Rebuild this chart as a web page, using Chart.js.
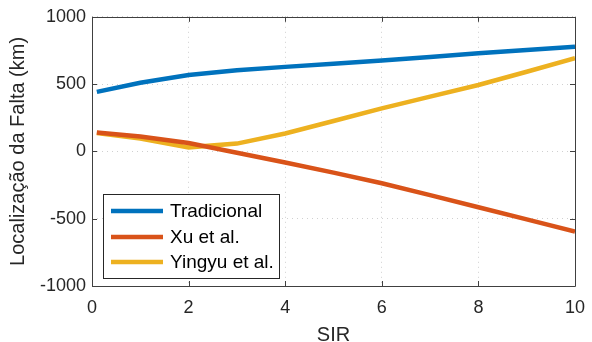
<!DOCTYPE html>
<html>
<head>
<meta charset="utf-8">
<script src="https://cdn.jsdelivr.net/npm/chart.js@4/dist/chart.umd.min.js"></script>
<style>
  html, body { margin: 0; padding: 0; background: #fff; }
  #wrap { width: 592px; height: 342px; }
</style>
</head>
<body>
<div id="wrap"><canvas id="fault-chart"></canvas></div>
<script>
// dados
const sir = [0.1, 1, 2, 3, 4, 5, 6, 7, 8, 9, 10];
const tradicional = [442, 510, 568, 603, 628, 652, 675, 702, 730, 754, 777];
const xuEtAl = [140, 110, 62, -10, -82, -158, -237, -325, -415, -505, -595];
const yingyuEtAl = [137, 95, 30, 58, 133, 226, 320, 407, 493, 592, 692];
const xTicks = [0, 2, 4, 6, 8, 10];
const yTicks = [-1000, -500, 0, 500, 1000];

const FONT = "'Liberation Sans', Arial, Helvetica, sans-serif";
const INK = "#262626";

function pts(ys) {
  return sir.map((x, i) => ({ x: x, y: ys[i] }));
}

// caixa, ticks para dentro e legenda (estilo MATLAB)
const matlabBox = {
  id: "matlabBox",
  afterDraw(chart) {
    const ctx = chart.ctx;
    const a = chart.chartArea;
    const sx = chart.scales.x;
    const sy = chart.scales.y;
    ctx.save();
    ctx.strokeStyle = "#404040";
    ctx.lineWidth = 1;
    ctx.beginPath();
    ctx.rect(Math.round(a.left) + 0.5, Math.round(a.top) + 0.5,
      Math.round(a.right - a.left), Math.round(a.bottom - a.top));
    xTicks.forEach((t) => {
      const px = Math.round(sx.getPixelForValue(t)) + 0.5;
      ctx.moveTo(px, a.bottom); ctx.lineTo(px, a.bottom - 5);
      ctx.moveTo(px, a.top); ctx.lineTo(px, a.top + 5);
    });
    yTicks.forEach((t) => {
      const py = Math.round(sy.getPixelForValue(t)) + 0.5;
      ctx.moveTo(a.left, py); ctx.lineTo(a.left + 5, py);
      ctx.moveTo(a.right, py); ctx.lineTo(a.right - 5, py);
    });
    ctx.stroke();

    // legenda
    const lx = 103, ly = 194, lw = 176, lh = 84;
    ctx.fillStyle = "#fff";
    ctx.fillRect(lx, ly, lw, lh);
    ctx.strokeStyle = INK;
    ctx.strokeRect(lx + 0.5, ly + 0.5, lw, lh);
    ctx.font = "19px " + FONT;
    ctx.textBaseline = "middle";
    const rows = [211, 237, 262];
    chart.data.datasets.forEach((ds, i) => {
      ctx.strokeStyle = ds.borderColor;
      ctx.lineWidth = 4.5;
      ctx.beginPath();
      ctx.moveTo(111, rows[i]);
      ctx.lineTo(163, rows[i]);
      ctx.stroke();
      ctx.fillStyle = "#000";
      ctx.fillText(ds.label, 170, rows[i] + 1);
    });
    ctx.restore();
  },
};

new Chart(document.getElementById("fault-chart"), {
  type: "line",
  data: {
    datasets: [
      { label: "Tradicional", data: pts(tradicional), borderColor: "#0072BD" },
      { label: "Xu et al.", data: pts(xuEtAl), borderColor: "#D95319" },
      { label: "Yingyu et al.", data: pts(yingyuEtAl), borderColor: "#EDB120" },
    ],
  },
  options: {
    responsive: true,
    maintainAspectRatio: false,
    animation: false,
    elements: {
      point: { radius: 0 },
      line: { borderWidth: 4.5, tension: 0, fill: false },
    },
    layout: { padding: { top: 16, right: 17, left: 0, bottom: 0 } },
    plugins: {
      legend: { display: false },
      tooltip: { enabled: false },
    },
    scales: {
      x: {
        type: "linear",
        min: 0,
        max: 10,
        afterFit: (s) => { s.height = 56; s.paddingLeft = 0; s.paddingRight = 0; },
        afterBuildTicks: (s) => { s.ticks = xTicks.map((v) => ({ value: v })); },
        grid: { color: "#d0d0d0", drawTicks: false },
        border: { display: false, dash: [1, 4] },
        ticks: {
          color: INK, padding: 11, font: { family: FONT, size: 18 },
          callback: (v) => String(v),
        },
        title: {
          display: true,
          text: "SIR",
          color: INK,
          padding: { top: 0, bottom: -5 },
          font: { family: FONT, size: 20 },
        },
      },
      y: {
        min: -1000,
        max: 1000,
        afterFit: (s) => { s.width = 92; },
        afterBuildTicks: (s) => { s.ticks = yTicks.map((v) => ({ value: v })); },
        grid: { color: "#d0d0d0", drawTicks: false },
        border: { display: false, dash: [1, 4] },
        ticks: {
          color: INK, padding: 6, font: { family: FONT, size: 18 },
          callback: (v) => String(v),
        },
        title: {
          display: true,
          text: "Localização da Falta (km)",
          color: INK,
          padding: { top: 6, bottom: 0 },
          font: { family: FONT, size: 20 },
        },
      },
    },
  },
  plugins: [matlabBox],
});
</script>
</body>
</html>
